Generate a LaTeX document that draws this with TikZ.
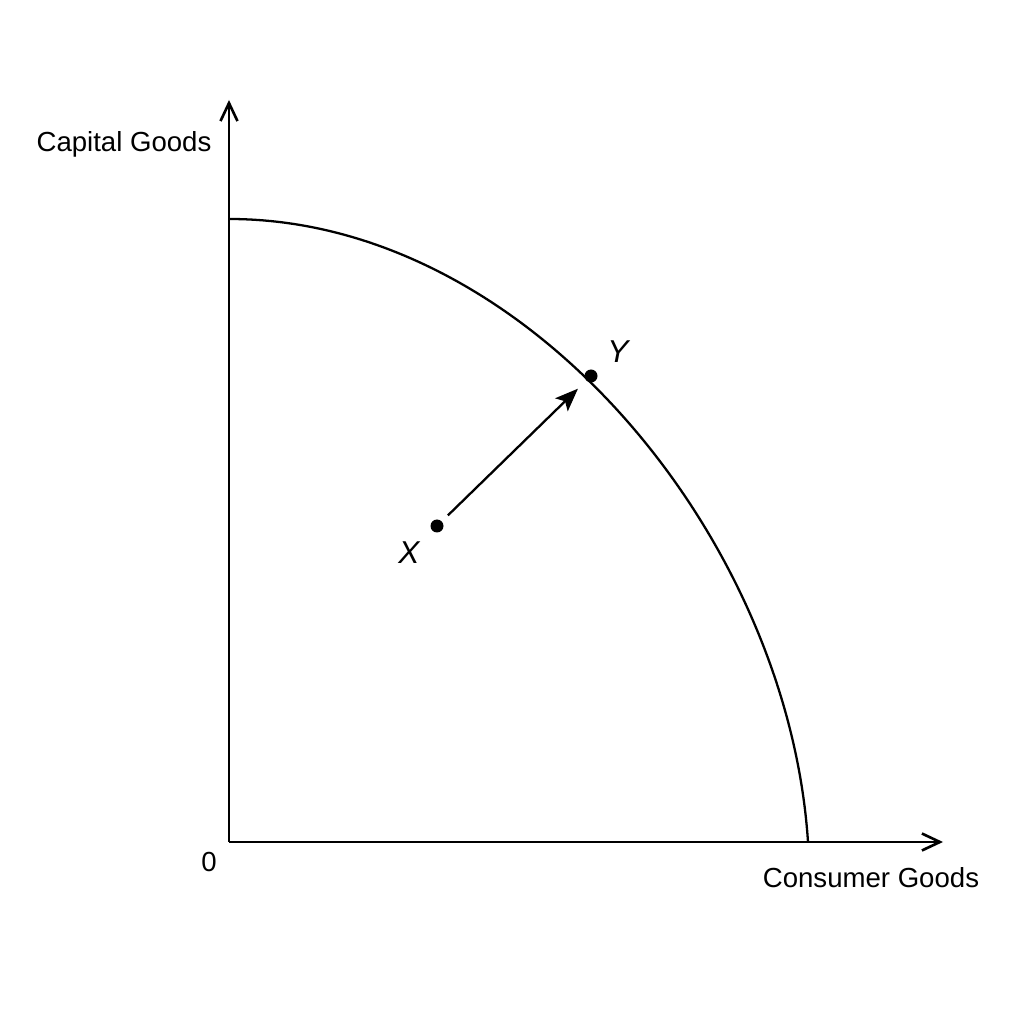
\documentclass[tikz,border=0pt]{standalone}
\usepackage{fontspec}
\setmainfont{Liberation Sans}
\usepackage{tikz}
\usetikzlibrary{positioning, arrows.meta, calc}

\begin{document}
\begin{tikzpicture}[
    >=Stealth,
    axis/.style={draw, line width=0.75pt, -{Straight Barb[length=1.8mm, width=1.7mm, line width=0.75pt]}},
    ppf/.style={draw, line width=0.65pt},
    pt/.style={circle, fill, inner sep=0pt, minimum size=0.13cm},
    lbl/.style={font=\fontsize{7.85}{9.4}\selectfont},
    ptlbl/.style={font=\fontsize{9}{10.8}\selectfont\itshape},
    move/.style={draw, line width=0.65pt, -{Stealth[length=2.3mm, width=1.8mm, inset=0.5mm]},
      shorten <=0.08cm, shorten >=0.11cm},
  ]
  \useasboundingbox (0, 0) rectangle (10.24, 10.24);

  %% --- Axes ---
  \coordinate (O) at (2.29, 1.82);
  \coordinate (Ytop) at (2.29, 9.24);
  \coordinate (Xend) at (9.43, 1.82);
  \draw[axis] (O) -- (Ytop);
  \draw[axis] (O) -- (Xend);
  \node[lbl] (capital) at (1.24, 8.80) {Capital Goods};
  \node[lbl] (consumer) at (8.71, 1.46) {Consumer Goods};
  \node[lbl] (zero) at (2.09, 1.62) {0};

  %% --- Production possibility frontier ---
  \coordinate (ppfTop) at (2.29, 8.05);
  \coordinate (ppfEnd) at (8.08, 1.82);
  \draw[ppf] (ppfTop) .. controls (5.27, 8.05) and (7.88, 4.87) .. (ppfEnd);

  %% --- Points X and Y ---
  \node[pt] (X) at (4.37, 4.98) {};
  \node[ptlbl] at (4.09, 4.71) {X};
  \node[pt] (Y) at (5.91, 6.48) {};
  \node[ptlbl] at (6.18, 6.72) {Y};

  % X moves to Y
  \draw[move] (X) -- (Y);
\end{tikzpicture}
\end{document}
